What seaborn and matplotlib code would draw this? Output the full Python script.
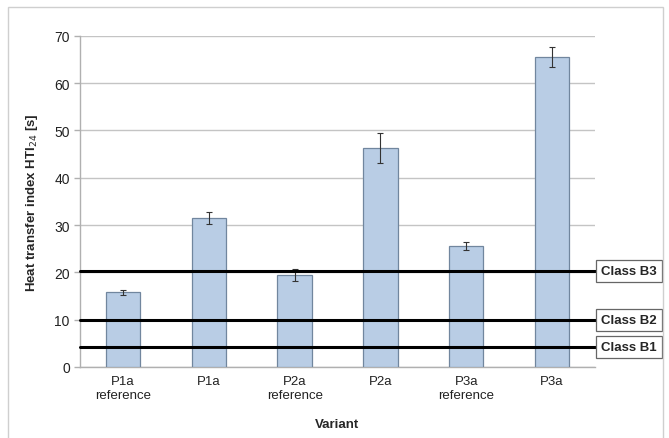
import matplotlib
matplotlib.use("Agg")
import matplotlib.pyplot as plt
import matplotlib.patches as patches
import seaborn as sns

# ============================================================
# DATA
# ============================================================

variants = ["P1a\nreference", "P1a", "P2a\nreference", "P2a", "P3a\nreference", "P3a"]
hti_values = [15.8, 31.5, 19.5, 46.3, 25.6, 65.5]
hti_errors = [0.5, 1.3, 1.3, 3.1, 0.9, 2.1]

class_names = ["Class B1", "Class B2", "Class B3"]
class_limits = [4.2, 10.0, 20.2]

y_ticks = [0, 10, 20, 30, 40, 50, 60, 70]

# ============================================================
# PLOT
# ============================================================

sns.set_style("white")
plt.rcParams["font.family"] = ["Liberation Sans", "DejaVu Sans"]

fig = plt.figure(figsize=(6.69, 4.39), dpi=100)
ax = fig.add_axes([0.12, 0.162, 0.769, 0.754])

# frame around the figure
fig.patches.append(patches.Rectangle((0.012, -0.01), 0.979, 0.992, transform=fig.transFigure,
                                     fill=False, edgecolor="#cfcfcf", linewidth=1.0))

sns.barplot(x=variants, y=hti_values, color="#b9cde5", width=0.4,
            edgecolor="#71869e", linewidth=0.9, saturation=1, ax=ax, zorder=3)
ax.errorbar(range(len(variants)), hti_values, yerr=hti_errors, fmt="none",
            ecolor="#333333", elinewidth=0.8, capsize=2, capthick=0.8, zorder=4)

# class limits
for name, lim in zip(class_names, class_limits):
    ax.axhline(lim, xmin=0, xmax=1.01, color="black", linewidth=2.2, clip_on=False, zorder=5)
    ax.annotate(name, xy=(1.013, lim), xycoords=("axes fraction", "data"),
                ha="left", va="center", fontsize=9.5, fontweight="bold", zorder=7,
                annotation_clip=False,
                bbox=dict(boxstyle="square,pad=0.38", fc="white", ec="#666666", lw=0.9))

ax.set_ylim(0, 70)
ax.set_xlim(-0.5, len(variants) - 0.5)
ax.set_yticks(y_ticks)
ax.yaxis.grid(True, color="#c4c4c4", linewidth=1.0, zorder=0)
ax.set_axisbelow(True)

ax.set_xticks([i - 0.5 for i in range(len(variants) + 1)], minor=True)
ax.tick_params(axis="x", which="major", length=0, pad=6, labelsize=9.5, colors="#222222")
ax.tick_params(axis="x", which="minor", length=4, color="#b0b0b0", width=1)
ax.tick_params(axis="y", which="major", length=4, color="#b0b0b0", width=1,
               labelsize=10, colors="#222222", left=True)

for side in ["top", "right"]:
    ax.spines[side].set_visible(False)
for side in ["left", "bottom"]:
    ax.spines[side].set_color("#b0b0b0")
    ax.spines[side].set_linewidth(1.0)

ax.set_xlabel("Variant", fontsize=9.5, fontweight="bold", labelpad=12)
ax.set_ylabel("Heat transfer index HTI$_{24}$ [s]", fontsize=9.5, fontweight="bold", labelpad=10)

fig.savefig("out.png", dpi=100)
